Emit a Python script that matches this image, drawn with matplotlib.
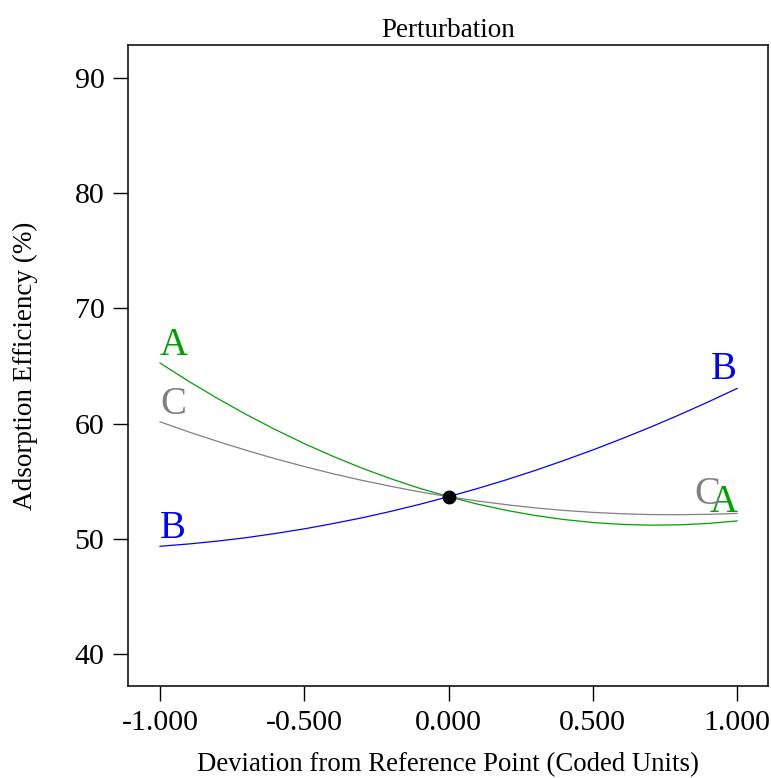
import matplotlib
matplotlib.use("Agg")
import matplotlib.pyplot as plt

plt.rcParams['font.family'] = ['Liberation Serif', 'DejaVu Serif']

# Coded deviation from reference point
x_coded = [-1.0, -0.9, -0.8, -0.7, -0.6, -0.5, -0.4, -0.3, -0.2, -0.1, 0.0,
           0.1, 0.2, 0.3, 0.4, 0.5, 0.6, 0.7, 0.8, 0.9, 1.0]

# Adsorption efficiency (%) for each factor
factor_A = [65.25, 63.66, 62.17, 60.77, 59.47, 58.26, 57.15, 56.13, 55.21, 54.38, 53.65,
            53.01, 52.47, 52.02, 51.67, 51.41, 51.25, 51.18, 51.21, 51.33, 51.55]
factor_B = [49.35, 49.55, 49.80, 50.10, 50.46, 50.86, 51.32, 51.82, 52.38, 52.99, 53.65,
            54.36, 55.12, 55.93, 56.80, 57.71, 58.68, 59.69, 60.76, 61.88, 63.05]
factor_C = [60.15, 59.27, 58.45, 57.67, 56.94, 56.27, 55.64, 55.07, 54.55, 54.07, 53.65,
            53.28, 52.96, 52.68, 52.46, 52.29, 52.17, 52.10, 52.09, 52.12, 52.20]

factor_names = ['A', 'B', 'C']
factor_colors = ['#00A000', '#0000FF', '#808080']

ref_x = 0.0
ref_y = 53.65

x_ticks = [-1.0, -0.5, 0.0, 0.5, 1.0]
x_ticklabels = ['-1.000', '-0.500', '0.000', '0.500', '1.000']
y_ticks = [40, 50, 60, 70, 80, 90]

fig = plt.figure(figsize=(7.71, 7.78), dpi=100)
ax = fig.add_axes([128/771, 1-686/778, 640/771, 641/778])

series = [factor_A, factor_B, factor_C]
right_shift = {'A': 0, 'B': 0, 'C': -17}
for name, vals, col in zip(factor_names, series, factor_colors):
    ax.plot(x_coded, vals, color=col, lw=0.9)
    ax.annotate(name, (x_coded[0], vals[0]), xytext=(0, 8), textcoords='offset pixels',
                ha='left', va='baseline', color=col, fontsize=28)
    ax.annotate(name, (x_coded[-1], vals[-1]), xytext=(right_shift[name], 9),
                textcoords='offset pixels',
                ha='right', va='baseline', color=col, fontsize=28)

ax.plot([ref_x], [ref_y], 'o', color='black', ms=9, zorder=5)

ax.set_xlim(-1.111, 1.107)
ax.set_ylim(37.22, 92.86)
ax.set_xticks(x_ticks)
ax.set_xticklabels(x_ticklabels)
ax.set_yticks(y_ticks)
ax.tick_params(axis='both', direction='out', length=11, width=1, labelsize=21.5, pad=6)
for s in ax.spines.values():
    s.set_linewidth(1.1)

ax.set_title('Perturbation', fontsize=19.5, pad=6)
ax.set_xlabel('Deviation from Reference Point (Coded Units)', fontsize=19.3, labelpad=12)
ax.set_ylabel('Adsorption Efficiency (%)', fontsize=19.5, labelpad=26)

fig.savefig('out.png', dpi=100)
